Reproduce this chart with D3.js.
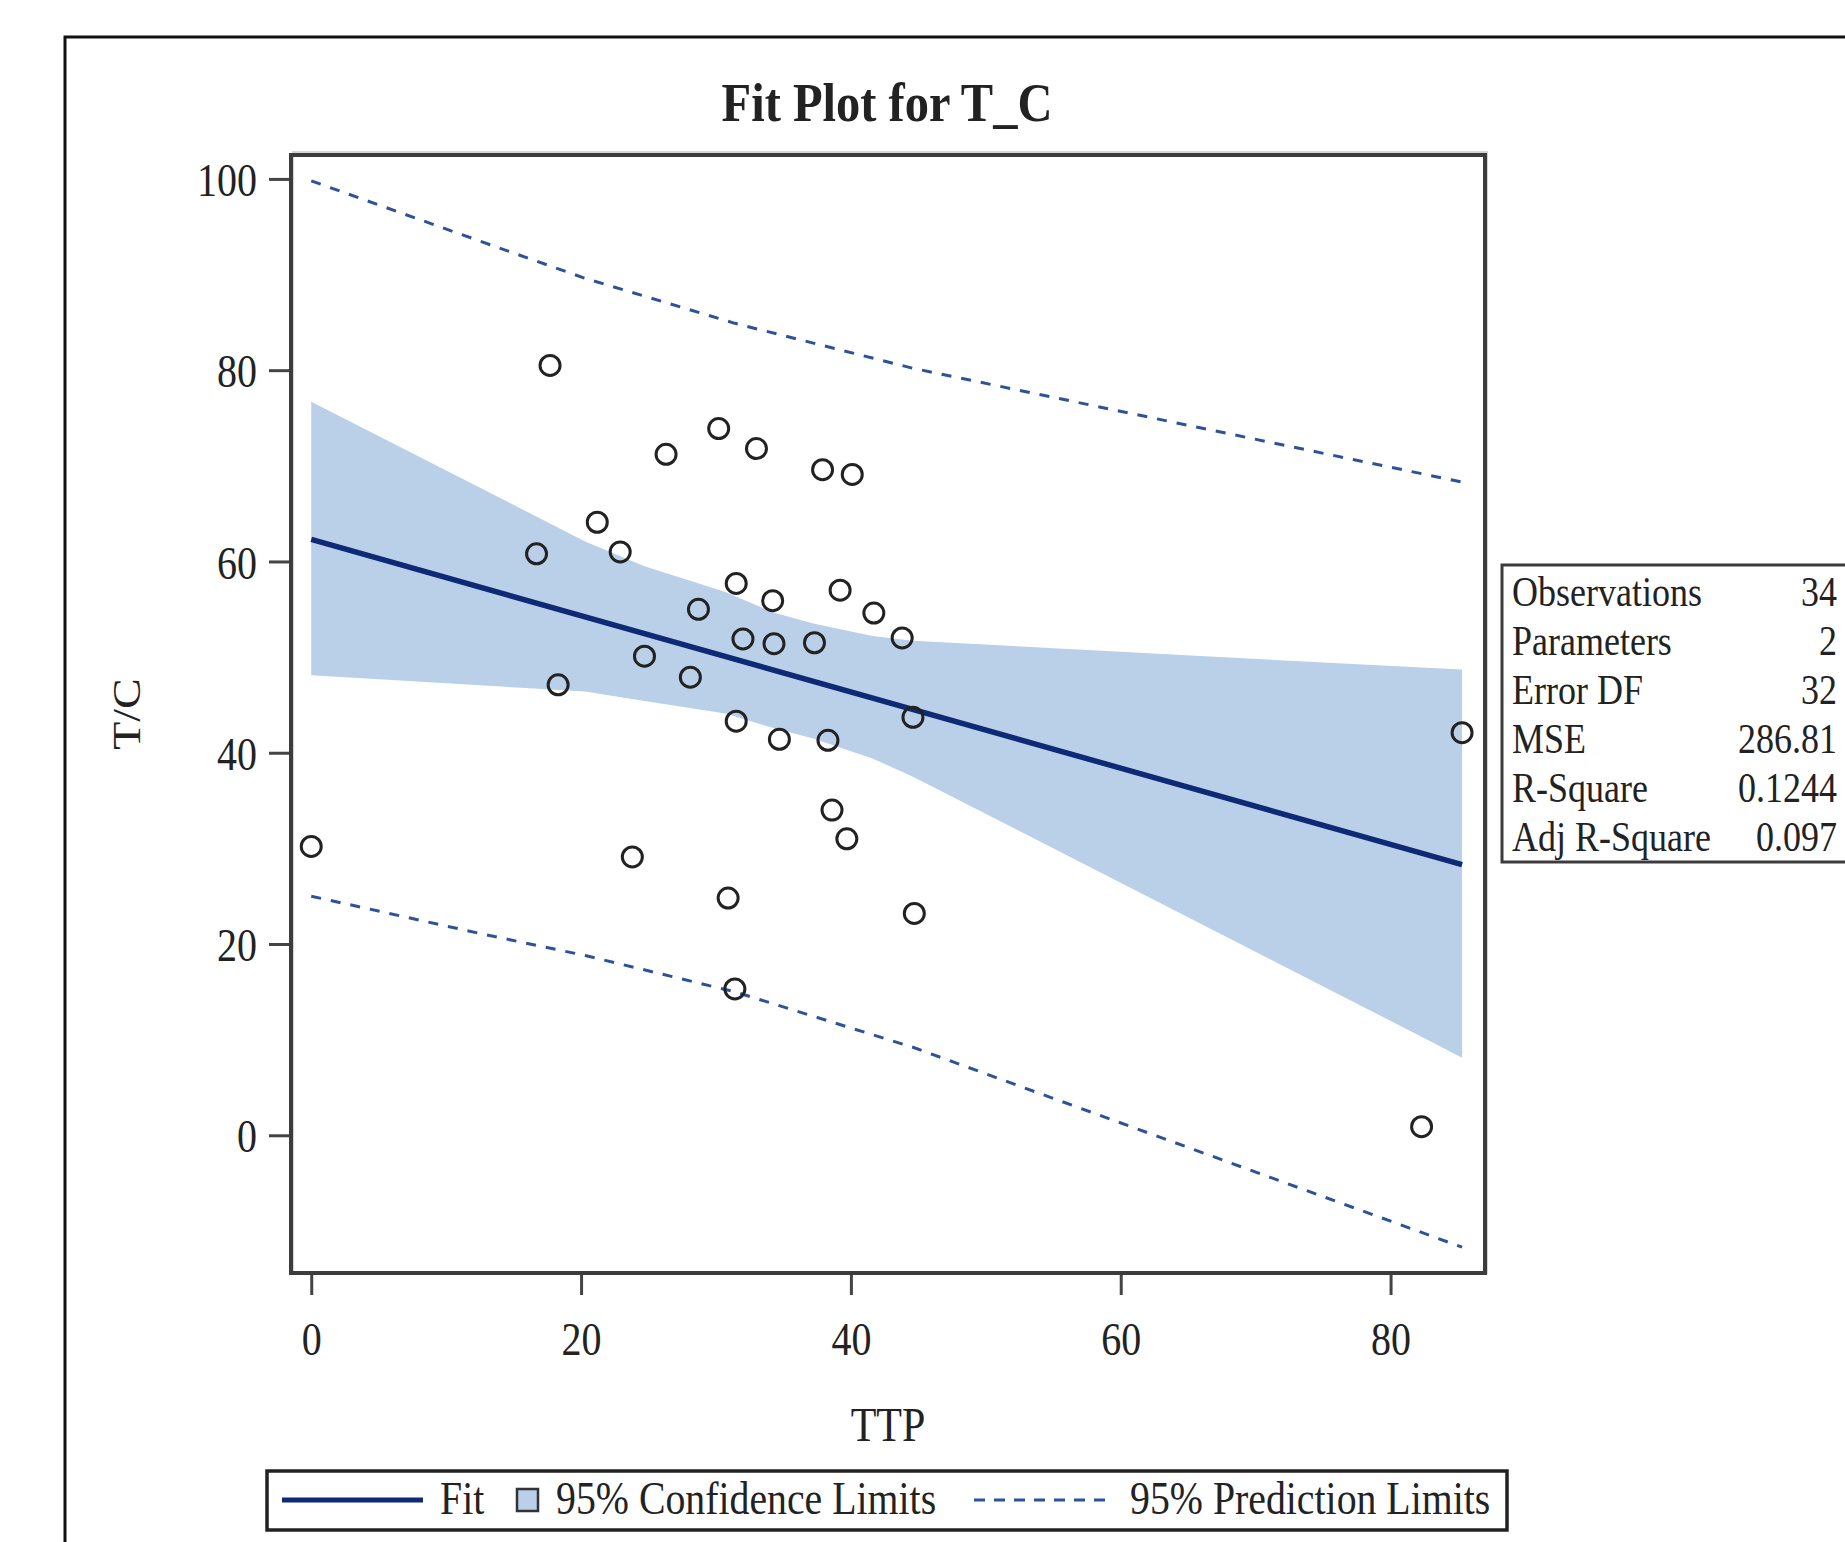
<!DOCTYPE html>
<html>
<head>
<meta charset="utf-8">
<script src="https://cdn.jsdelivr.net/npm/d3@7"></script>
<style>
  body { margin: 0; background: #fff; }
  svg { display: block; }
</style>
</head>
<body>
<svg id="chart"></svg>
<script>
// Fit Plot for T_C : scatter of T/C against TTP with linear fit, CI band and prediction limits
const width = 1845;
const height = 1542;
const serif = "'Liberation Serif', 'Times New Roman', serif";

// observations (TTP, T/C)
const ttp = [0, 17.7, 16.7, 18.3, 21.2, 22.9, 24.7, 23.8, 26.3, 28.7, 28.1, 30.2, 31.5, 32.0, 31.5, 30.9, 31.4,
             33.0, 34.2, 34.3, 34.7, 37.3, 37.9, 40.1, 39.2, 38.3, 38.6, 39.7, 41.7, 43.8, 44.6, 44.7, 85.3, 82.3];
const tc  = [30.2, 80.5, 60.8, 47.1, 64.1, 61.0, 50.1, 29.1, 71.2, 55.0, 47.9, 73.9, 57.7, 51.9, 43.3, 24.8, 15.3,
             71.8, 55.9, 51.4, 41.4, 51.5, 69.6, 69.1, 57.0, 41.3, 34.0, 31.0, 54.6, 52.0, 43.7, 23.2, 42.1, 0.9];

// fit line end points
const fitX = [0, 85.3];
const fitY = [62.3, 28.3];

// 95% confidence band
const bandX  = [0, 20.3, 24.7, 30.7, 34.2, 37.2, 41.6, 44.6, 82.3, 85.3];
const bandLo = [48.1, 46.4, 45.4, 44.1, 42.6, 41.5, 39.4, 37.5, 10.3, 8.1];
const bandHi = [76.7, 62.1, 59.5, 56.8, 54.7, 53.5, 52.2, 51.7, 48.9, 48.7];

// 95% prediction limits
const piX  = [0, 12.5, 20.3, 31.4, 44.6, 85.3];
const piLo = [25.0, 21.1, 18.8, 15.0, 9.2, -11.7];
const piHi = [99.8, 93.5, 89.6, 84.9, 80.2, 68.3];

const xTicks = [0, 20, 40, 60, 80];
const yTicks = [0, 20, 40, 60, 80, 100];

const statLabels = ["Observations", "Parameters", "Error DF", "MSE", "R-Square", "Adj R-Square"];
const statValues = ["34", "2", "32", "286.81", "0.1244", "0.097"];

const legendItems = ["Fit", "95% Confidence Limits", "95% Prediction Limits"];

const plotL = 291, plotR = 1485, plotT = 155, plotB = 1273;
const stretch = 1.15;   // glyphs in the source are a bit taller than wide
const ink = "#222";
const fitColor = "#0f2a74";
const piColor = "#2d5298";
const bandColor = "#bacfe8";

const svg = d3.select("#chart")
  .attr("width", width)
  .attr("height", height)
  .attr("font-family", serif);

svg.append("rect").attr("width", width).attr("height", height).attr("fill", "#fff");

// helper for stretched serif text
function label(g, x, y, str, size, anchor, weight, rotate) {
  return g.append("text")
    .attr("transform", `translate(${x},${y})` + (rotate ? ` rotate(${rotate})` : "") + ` scale(${rotate ? stretch : 1},${rotate ? 1 : stretch})`)
    .attr("text-anchor", anchor || "start")
    .attr("font-family", serif)
    .attr("font-size", size)
    .attr("font-weight", weight || "normal")
    .attr("fill", ink)
    .text(str);
}

// outer frame
svg.append("rect")
  .attr("x", 65).attr("y", 37)
  .attr("width", width).attr("height", height)
  .attr("fill", "none").attr("stroke", "#111").attr("stroke-width", 3);

// title
label(svg, 887, 121, "Fit Plot for T_C", 48.5, "middle", "bold");

const x = d3.scaleLinear().domain([-1.5, 87]).range([plotL, plotR]);
const y = d3.scaleLinear().domain([-14.4, 102.5]).range([plotB, plotT]);

svg.append("defs").append("clipPath").attr("id", "plotclip")
  .append("rect")
  .attr("x", plotL).attr("y", plotT)
  .attr("width", plotR - plotL).attr("height", plotB - plotT);

const plot = svg.append("g").attr("clip-path", "url(#plotclip)");

// confidence band
const bandData = bandX.map((d, i) => ({ x: d, lo: bandLo[i], hi: bandHi[i] }));
plot.append("path")
  .datum(bandData)
  .attr("fill", bandColor)
  .attr("d", d3.area().x(d => x(d.x)).y0(d => y(d.lo)).y1(d => y(d.hi)));

// prediction limits
const piLine = d3.line().x(d => x(d[0])).y(d => y(d[1]));
[piLo, piHi].forEach(arr => {
  plot.append("path")
    .datum(piX.map((d, i) => [d, arr[i]]))
    .attr("fill", "none")
    .attr("stroke", piColor)
    .attr("stroke-width", 3)
    .attr("stroke-dasharray", "10,10")
    .attr("d", piLine);
});

// fit line
plot.append("path")
  .datum(fitX.map((d, i) => [d, fitY[i]]))
  .attr("fill", "none")
  .attr("stroke", fitColor)
  .attr("stroke-width", 5.5)
  .attr("d", piLine);

// observations
plot.selectAll("circle")
  .data(ttp.map((d, i) => ({ x: d, y: tc[i] })))
  .enter().append("circle")
  .attr("cx", d => x(d.x))
  .attr("cy", d => y(d.y))
  .attr("r", 10)
  .attr("fill", "none")
  .attr("stroke", ink)
  .attr("stroke-width", 3);

// axes
const yAxis = svg.append("g")
  .attr("transform", `translate(${plotL},0)`)
  .call(d3.axisLeft(y).tickValues(yTicks).tickSize(22).tickSizeOuter(0))
  .attr("font-family", serif)
  .attr("font-size", 40);
yAxis.select(".domain").remove();
yAxis.selectAll(".tick line").attr("stroke", "#444").attr("stroke-width", 3);
yAxis.selectAll(".tick text")
  .attr("x", null)
  .attr("dy", "0.36em")
  .attr("transform", `translate(-34,0) scale(1,${stretch})`)
  .attr("fill", ink);

const xAxis = svg.append("g")
  .attr("transform", `translate(0,${plotB})`)
  .call(d3.axisBottom(x).tickValues(xTicks).tickSize(22).tickSizeOuter(0))
  .attr("font-family", serif)
  .attr("font-size", 40);
xAxis.select(".domain").remove();
xAxis.selectAll(".tick line").attr("stroke", "#444").attr("stroke-width", 3);
xAxis.selectAll(".tick text")
  .attr("y", null)
  .attr("dy", null)
  .attr("transform", `translate(0,82) scale(1,${stretch})`)
  .attr("fill", ink);

// axis labels
label(svg, (plotL + plotR) / 2, 1441, "TTP", 42, "middle");
label(svg, 140, (plotT + plotB) / 2, "T/C", 40, "middle", "normal", -90);

// plot frame with faint shadow
svg.append("rect")
  .attr("x", plotL + 2).attr("y", plotT - 3)
  .attr("width", plotR - plotL).attr("height", plotB - plotT + 3)
  .attr("fill", "none").attr("stroke", "#d4d4d4").attr("stroke-width", 2);
svg.append("rect")
  .attr("x", plotL).attr("y", plotT)
  .attr("width", plotR - plotL).attr("height", plotB - plotT)
  .attr("fill", "none").attr("stroke", "#3c3c3c").attr("stroke-width", 4);

// statistics inset
const inset = svg.append("g");
inset.append("rect")
  .attr("x", 1502).attr("y", 565)
  .attr("width", 380).attr("height", 297)
  .attr("fill", "#fff").attr("stroke", "#3c3c3c").attr("stroke-width", 3);
statLabels.forEach((s, i) => {
  label(inset, 1512, 606 + i * 49, s, 36, "start");
  label(inset, 1837, 606 + i * 49, statValues[i], 36, "end");
});

// legend
const legend = svg.append("g");
legend.append("rect")
  .attr("x", 267).attr("y", 1471)
  .attr("width", 1240).attr("height", 59)
  .attr("fill", "#fff").attr("stroke", "#222").attr("stroke-width", 3.5);
legend.append("line")
  .attr("x1", 282).attr("x2", 423).attr("y1", 1500).attr("y2", 1500)
  .attr("stroke", fitColor).attr("stroke-width", 5);
label(legend, 440, 1514, legendItems[0], 39.8, "start");
legend.append("rect")
  .attr("x", 517).attr("y", 1489)
  .attr("width", 21).attr("height", 22)
  .attr("fill", bandColor).attr("stroke", "#333").attr("stroke-width", 2.5);
label(legend, 556, 1514, legendItems[1], 39.8, "start");
legend.append("line")
  .attr("x1", 974).attr("x2", 1112).attr("y1", 1500).attr("y2", 1500)
  .attr("stroke", piColor).attr("stroke-width", 3)
  .attr("stroke-dasharray", "11,9");
label(legend, 1130, 1514, legendItems[2], 39.8, "start");
</script>
</body>
</html>
